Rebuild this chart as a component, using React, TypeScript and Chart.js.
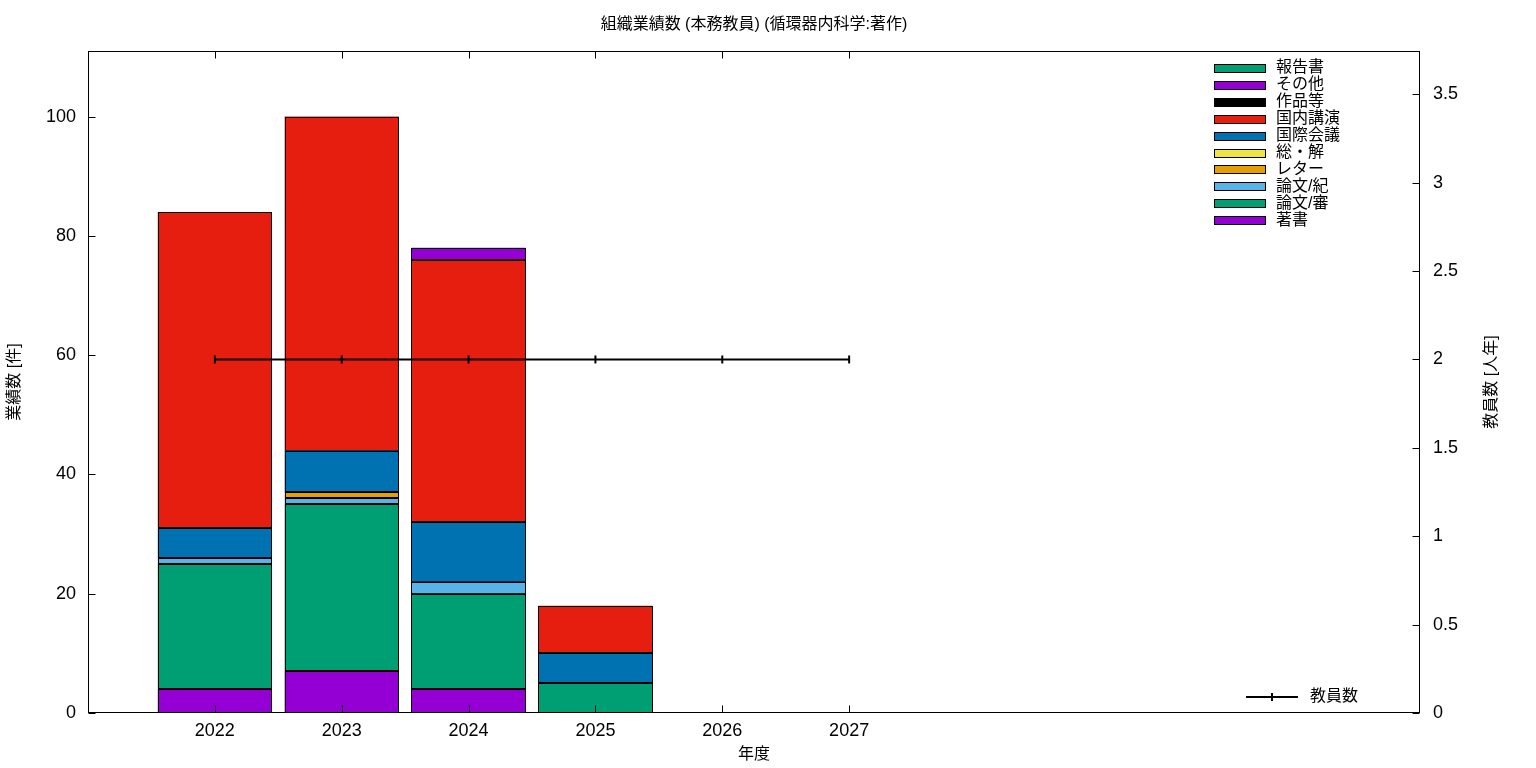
import React, { useEffect, useRef } from "react";
import { Chart, registerables } from "chart.js";

Chart.register(...registerables);

const TITLE = "組織業績数 (本務教員) (循環器内科学:著作)";
const X_TITLE = "年度";
const Y_TITLE = "業績数 [件]";
const Y2_TITLE = "教員数 [人年]";

const years = [2022, 2023, 2024, 2025];
const xTickYears = [2022, 2023, 2024, 2025, 2026, 2027];
const yTicks = [0, 20, 40, 60, 80, 100];
const y2Ticks = [0, 0.5, 1, 1.5, 2, 2.5, 3, 3.5];

// stacking order bottom -> top
const seriesNames = ["著書", "論文/審", "論文/紀", "レター", "総・解", "国際会議", "国内講演", "作品等", "その他", "報告書"];
const seriesColors = ["#9400D3", "#009E73", "#56B4E9", "#E69F00", "#F0E442", "#0072B2", "#E51E10", "#000000", "#9400D3", "#009E73"];

const chosho = [4, 7, 4, 0];
const ronbunShin = [21, 28, 16, 5];
const ronbunKi = [1, 1, 2, 0];
const letter = [0, 1, 0, 0];
const soukai = [0, 0, 0, 0];
const kokusai = [5, 7, 10, 5];
const kokunai = [53, 56, 44, 8];
const sakuhin = [0, 0, 0, 0];
const sonota = [0, 0, 2, 0];
const houkoku = [0, 0, 0, 0];
const seriesValues = [chosho, ronbunShin, ronbunKi, letter, soukai, kokusai, kokunai, sakuhin, sonota, houkoku];

const staffYears = [2022, 2023, 2024, 2025, 2026, 2027];
const staff = [2, 2, 2, 2, 2, 2];
const STAFF_LABEL = "教員数";

const FONT = "'Liberation Sans', 'Noto Sans CJK JP', sans-serif";

const framePlugin = {
  id: "gnuFrame",
  afterDatasetDraw(chart: any, args: any) {
    const meta = args.meta;
    if (meta.type !== "bar") return;
    const { ctx } = chart;
    ctx.save();
    ctx.strokeStyle = "#000";
    ctx.lineWidth = 1;
    for (const el of meta.data) {
      const p = el.getProps(["x", "y", "base", "width"], true);
      if (p.y == null || isNaN(p.y) || Math.abs(p.base - p.y) < 0.01) continue;
      const l = Math.round(p.x - p.width / 2) + 0.5;
      const r = Math.round(p.x + p.width / 2) - 0.5;
      const t = Math.round(Math.min(p.y, p.base)) + 0.5;
      const b = Math.round(Math.max(p.y, p.base)) - 0.5;
      ctx.strokeRect(l, t, r - l, b - t);
    }
    ctx.restore();
  },
  afterDatasetsDraw(chart: any) {
    const { ctx, chartArea: a, scales } = chart;
    ctx.save();
    ctx.strokeStyle = "#000";
    ctx.lineWidth = 1;
    const L = Math.round(a.left) + 0.5;
    const R = Math.round(a.right) - 0.5;
    const T = Math.round(a.top) + 0.5;
    const B = Math.round(a.bottom) - 0.5;
    ctx.strokeRect(L, T, R - L, B - T);
    const tl = 7;
    ctx.beginPath();
    for (const v of xTickYears) {
      const x = Math.round(scales.x.getPixelForValue(v)) + 0.5;
      ctx.moveTo(x, B);
      ctx.lineTo(x, B - tl);
      ctx.moveTo(x, T);
      ctx.lineTo(x, T + tl);
    }
    for (const v of yTicks) {
      const y = Math.round(scales.y.getPixelForValue(v)) + 0.5;
      ctx.moveTo(L, y);
      ctx.lineTo(L + tl, y);
    }
    for (const v of y2Ticks) {
      const y = Math.round(scales.y2.getPixelForValue(v)) + 0.5;
      ctx.moveTo(R, y);
      ctx.lineTo(R - tl, y);
    }
    ctx.stroke();
    ctx.restore();
  },
  afterDraw(chart: any) {
    const { ctx, chartArea: a } = chart;
    ctx.save();
    ctx.fillStyle = "#000";
    ctx.textBaseline = "middle";
    // title
    ctx.font = `16px ${FONT}`;
    ctx.textAlign = "center";
    ctx.fillText(TITLE, (a.left + a.right) / 2, 25);
    // x title
    ctx.font = `16px ${FONT}`;
    ctx.fillText(X_TITLE, (a.left + a.right) / 2, 755);
    // y titles
    ctx.save();
    ctx.translate(15, 382);
    ctx.rotate(-Math.PI / 2);
    ctx.fillText(Y_TITLE, 0, 0);
    ctx.restore();
    ctx.save();
    ctx.translate(1492, 382);
    ctx.rotate(-Math.PI / 2);
    ctx.fillText(Y2_TITLE, 0, 0);
    ctx.restore();

    // legend for bars (reverse order)
    ctx.textAlign = "left";
    ctx.font = `16px ${FONT}`;
    const n = seriesNames.length;
    for (let k = 0; k < n; k++) {
      const i = n - 1 - k;
      const cy = 68 + k * 16.9;
      const top = Math.round(cy - 4) + 0.5;
      ctx.fillStyle = seriesColors[i];
      ctx.fillRect(1214.5, top, 51, 8);
      ctx.strokeStyle = "#000";
      ctx.lineWidth = 1;
      ctx.strokeRect(1214.5, top, 51, 8);
      ctx.fillStyle = "#000";
      ctx.fillText(seriesNames[i], 1276, cy);
    }
    // legend for line
    ctx.strokeStyle = "#000";
    ctx.lineWidth = 2;
    ctx.beginPath();
    ctx.moveTo(1246, 697);
    ctx.lineTo(1298, 697);
    ctx.moveTo(1272, 693);
    ctx.lineTo(1272, 701);
    ctx.stroke();
    ctx.fillText(STAFF_LABEL, 1310, 697);
    ctx.restore();
  },
};

export default function App() {
  const ref = useRef<HTMLCanvasElement | null>(null);
  useEffect(() => {
    if (!ref.current) return;
    const barSets = seriesNames.map((name, i) => ({
      type: "bar" as const,
      label: name,
      data: years
        .map((x, j) => ({ x, y: seriesValues[i][j] }))
        .filter((d) => d.y !== 0),
      backgroundColor: seriesColors[i],
      borderWidth: 0,
      yAxisID: "y",
      xAxisID: "x",
      barPercentage: 0.9,
      categoryPercentage: 1.0,
      order: 1,
    }));
    const lineSet = {
      type: "line" as const,
      label: STAFF_LABEL,
      data: staffYears.map((x, j) => ({ x, y: staff[j] })),
      borderColor: "#000",
      backgroundColor: "#000",
      borderWidth: 2,
      pointStyle: "line",
      rotation: 90,
      pointRadius: 4,
      pointBorderWidth: 2,
      fill: false,
      yAxisID: "y2",
      xAxisID: "x",
      order: 0,
    };
    const tickFont = { family: FONT, size: 18 };
    const chart = new Chart(ref.current, {
      type: "bar",
      data: { datasets: [...barSets, lineSet] as any },
      plugins: [framePlugin],
      options: {
        animation: false,
        responsive: false,
        layout: { padding: { top: 51, left: 0, right: 0, bottom: 0 } },
        plugins: { legend: { display: false }, tooltip: { enabled: false }, title: { display: false } },
        scales: {
          x: {
            type: "linear",
            min: 2021,
            max: 2031.5,
            stacked: true,
            offset: false,
            grid: { display: false, drawTicks: false },
            border: { display: false },
            ticks: { font: tickFont, color: "#000", padding: 7, maxRotation: 0, callback: (v: any) => String(v) },
            afterBuildTicks: (s: any) => { s.ticks = xTickYears.map((v) => ({ value: v })); },
            afterFit: (s: any) => { s.height = 55; },
          },
          y: {
            type: "linear",
            position: "left",
            min: 0,
            max: 111,
            stacked: true,
            grid: { display: false, drawTicks: false },
            border: { display: false },
            ticks: { font: tickFont, color: "#000", padding: 12, callback: (v: any) => String(v) },
            afterBuildTicks: (s: any) => { s.ticks = yTicks.map((v) => ({ value: v })); },
            afterFit: (s: any) => { s.width = 88; },
          },
          y2: {
            type: "linear",
            position: "right",
            min: 0,
            max: 3.745,
            stacked: false,
            grid: { display: false, drawTicks: false },
            border: { display: false },
            ticks: { font: tickFont, color: "#000", padding: 13, callback: (v: any) => String(v) },
            afterBuildTicks: (s: any) => { s.ticks = y2Ticks.map((v) => ({ value: v })); },
            afterFit: (s: any) => { s.width = 116; },
          },
        },
      } as any,
    });
    return () => chart.destroy();
  }, []);
  return (
    <div style={{ position: "fixed", left: 0, top: 0, width: 1536, height: 768, background: "#fff" }}>
      <canvas ref={ref} width={1536} height={768} style={{ width: 1536, height: 768, display: "block" }} />
    </div>
  );
}
